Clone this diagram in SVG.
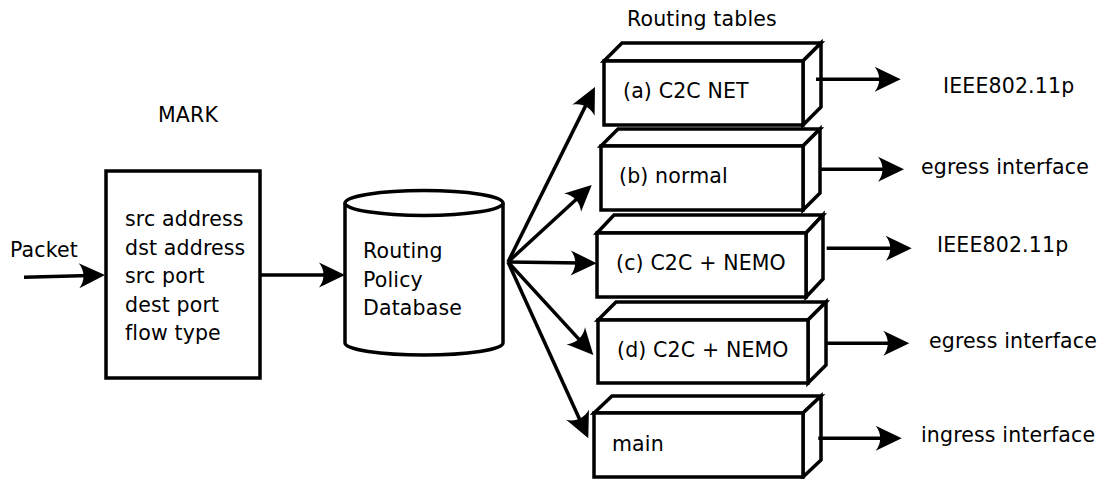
<svg xmlns="http://www.w3.org/2000/svg" width="1104" height="479" viewBox="0 0 1104 479">
<style>
text{font-family:"DejaVu Sans","Liberation Sans",sans-serif;font-size:20.5px;letter-spacing:0.15px;fill:#000}
.shape{fill:#fff;stroke:#000;stroke-width:3.5;stroke-linejoin:miter}
.conn{stroke:#000;stroke-width:3.5;fill:none;marker-end:url(#ah)}
</style>
<defs>
<marker id="ah" markerUnits="userSpaceOnUse" markerWidth="40" markerHeight="40" refX="0" refY="0" orient="auto" overflow="visible">
<path d="M15,0 L-11,-12.5 C-5,-5 -5,5 -11,12.5 Z" fill="#000"/>
</marker>
</defs>
<rect width="1104" height="479" fill="#fff"/>
<g id="labels">
<text x="10" y="257">Packet</text>
<text x="158" y="122">MARK</text>
<text x="627" y="26">Routing tables</text>
</g>
<g id="mark">
<rect class="shape" x="106" y="171" width="154" height="207" stroke-width="3"/>
<text x="125" y="226">src address</text>
<text x="125" y="255">dst address</text>
<text x="125" y="283">src port</text>
<text x="125" y="312">dest port</text>
<text x="125" y="340">flow type</text>
</g>
<g id="rpdb">
<path class="shape" d="M345,203 L345,343 A79,12 0 0,0 503,343 L503,203"/>
<ellipse class="shape" cx="424" cy="203" rx="79" ry="12.5"/>
<text x="363" y="258">Routing</text>
<text x="363" y="287">Policy</text>
<text x="363" y="315">Database</text>
</g>
<g id="table-a">
<polygon class="shape" points="604,61 622,43 821,43 803,61"/>
<polygon class="shape" points="803,61 821,43 821,107 803,125"/>
<rect class="shape" x="604" y="61" width="199" height="64"/>
<text x="623" y="98">(a) C2C NET</text>
</g>
<g id="table-b">
<polygon class="shape" points="601,146 618,129 820,129 803,146"/>
<polygon class="shape" points="803,146 820,129 820,193 803,210"/>
<rect class="shape" x="601" y="146" width="202" height="64"/>
<text x="619" y="183">(b) normal</text>
</g>
<g id="table-c">
<polygon class="shape" points="597,233 614,215 823,215 806,233"/>
<polygon class="shape" points="806,233 823,215 823,279 806,297"/>
<rect class="shape" x="597" y="233" width="209" height="64"/>
<text x="616" y="270">(c) C2C + NEMO</text>
</g>
<g id="table-d">
<polygon class="shape" points="598,320 616,302 826,302 808,320"/>
<polygon class="shape" points="808,320 826,302 826,365 808,383"/>
<rect class="shape" x="598" y="320" width="210" height="63"/>
<text x="617" y="357">(d) C2C + NEMO</text>
</g>
<g id="table-main">
<polygon class="shape" points="594,413 612,396 821,396 803,413"/>
<polygon class="shape" points="803,413 821,396 821,460 803,477"/>
<rect class="shape" x="594" y="413" width="209" height="64"/>
<text x="612" y="451">main</text>
</g>
<g id="outputs">
<text x="943" y="93">IEEE802.11p</text>
<text x="921" y="174">egress interface</text>
<text x="937" y="252">IEEE802.11p</text>
<text x="929" y="348">egress interface</text>
<text x="921" y="442">ingress interface</text>
</g>
<g id="connectors">
<line class="conn" x1="24" y1="277.3" x2="90" y2="275.4"/>
<line class="conn" x1="260" y1="275" x2="330" y2="275"/>
<line class="conn" x1="508" y1="262" x2="588.3" y2="100.4"/>
<line class="conn" x1="508" y1="262" x2="580.7" y2="195.2"/>
<line class="conn" x1="508" y1="262" x2="581.7" y2="263.1"/>
<line class="conn" x1="508" y1="262" x2="583.2" y2="343.9"/>
<line class="conn" x1="508" y1="262" x2="582.1" y2="424.7"/>
<line class="conn" x1="816" y1="79.3" x2="885.7" y2="79.3"/>
<line class="conn" x1="820.7" y1="169.3" x2="889" y2="169.3"/>
<line class="conn" x1="826.7" y1="248.3" x2="896.7" y2="248.3"/>
<line class="conn" x1="826.7" y1="343.3" x2="894.3" y2="343.3"/>
<line class="conn" x1="818.3" y1="438.3" x2="886.7" y2="438.3"/>
</g>
</svg>
